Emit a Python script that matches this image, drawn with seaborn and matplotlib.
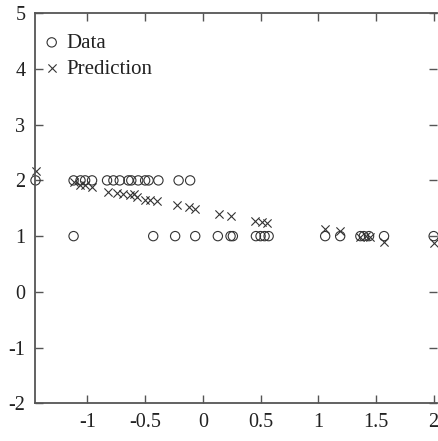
import matplotlib
matplotlib.use("Agg")
import matplotlib.pyplot as plt
import seaborn as sns

# data
data_x = [-1.45, -1.12, -1.06, -1.02, -0.96, -0.83, -0.775, -0.72, -0.645, -0.62,
          -0.56, -0.50, -0.47, -0.385, -0.21, -0.11,
          -1.12, -0.43, -0.24, -0.066, 0.13, 0.24, 0.26, 0.46, 0.50, 0.535, 0.57,
          1.06, 1.19, 1.365, 1.395, 1.44, 1.57, 2.0]
data_y = [2.0] * 16 + [1.0] * 18

pred_x = [-1.45, -1.12, -1.064, -1.02, -0.96, -0.82, -0.745, -0.69, -0.63, -0.60,
          -0.57, -0.50, -0.457, -0.40, -0.225, -0.124, -0.066, 0.136, 0.246,
          0.454, 0.512, 0.556, 1.055, 1.19, 1.365, 1.41, 1.45, 1.567, 2.0]
pred_y = [2.17, 1.98, 1.92, 1.91, 1.89, 1.80, 1.77, 1.76, 1.74, 1.76,
          1.71, 1.64, 1.64, 1.63, 1.55, 1.52, 1.49, 1.40, 1.36,
          1.28, 1.26, 1.24, 1.12, 1.09, 0.99, 1.00, 0.99, 0.90, 0.87]

x_ticks = [-1, -0.5, 0, 0.5, 1, 1.5, 2]
x_ticklabels = ["-1", "-0.5", "0", "0.5", "1", "1.5", "2"]
y_ticks = [-2, -1, 0, 1, 2, 3, 4, 5]
y_ticklabels = ["-2", "-1", "0", "1", "2", "3", "4", "5"]

sns.set_style("ticks")
plt.rcParams["font.family"] = ["Liberation Serif", "DejaVu Serif"]
plt.rcParams["axes.unicode_minus"] = False

INK = "#333333"
SPINE = "#555555"

fig = plt.figure(figsize=(4.38, 4.41), dpi=100)
ax = fig.add_axes([0.080, 0.0855, 0.918, 0.8845])

sns.scatterplot(x=data_x, y=data_y, ax=ax, marker="o", s=45, clip_on=False,
                facecolor="none", edgecolor=INK, linewidth=0.8, label="Data")
sns.scatterplot(x=pred_x, y=pred_y, ax=ax, marker="x", s=35, clip_on=False,
                color=INK, linewidth=0.8, label="Prediction")

ax.set_xlim(-1.454, 2.03)
ax.set_ylim(-2, 5)
ax.set_xticks(x_ticks)
ax.set_xticklabels(x_ticklabels)
ax.set_yticks(y_ticks)
ax.set_yticklabels(y_ticklabels)

for side in ["left", "bottom", "top"]:
    ax.spines[side].set_color(SPINE)
    ax.spines[side].set_linewidth(1.3)
ax.spines["right"].set_visible(False)

ax.tick_params(axis="both", which="both", direction="in", length=6, width=1,
               color=SPINE, top=True, right=True, labelsize=14.5, labelcolor="#222222")
ax.tick_params(axis="x", pad=7)
ax.tick_params(axis="y", pad=7)

leg = ax.legend(loc="upper left", bbox_to_anchor=(0.0, 0.970), frameon=False,
                fontsize=15, handletextpad=0.3, borderaxespad=0.1,
                labelspacing=0.3, handlelength=0.8, borderpad=0.3)
for t in leg.get_texts():
    t.set_color("#222222")

fig.savefig("out.png", dpi=100)
